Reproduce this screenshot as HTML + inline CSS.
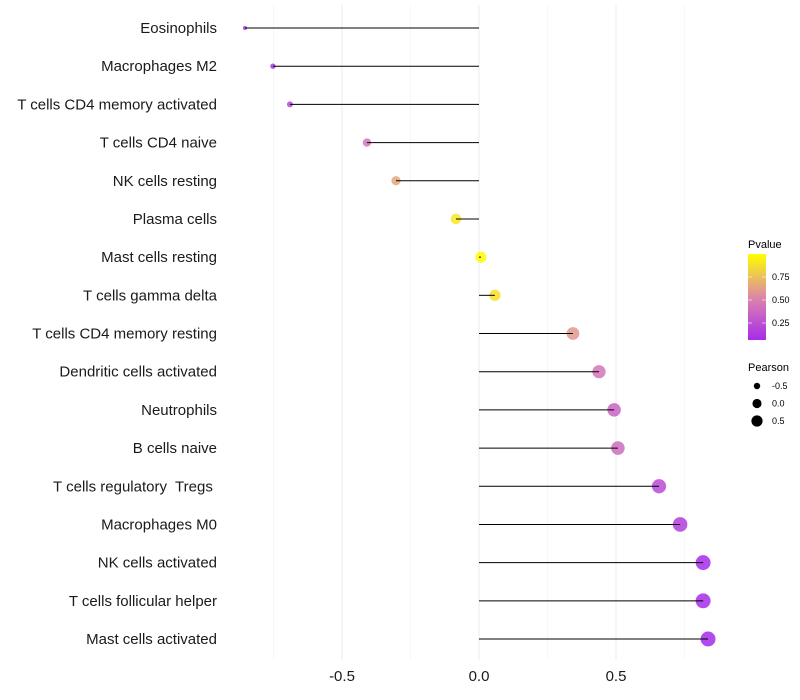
<!DOCTYPE html>
<html><head><meta charset="utf-8"><style>
body{margin:0;background:#fff;font-family:"Liberation Sans",sans-serif}
text{white-space:pre}
</style></head><body>
<svg id="c" width="800" height="700" style="display:block"></svg>
<script>
const categories=["Eosinophils","Macrophages M2","T cells CD4 memory activated","T cells CD4 naive","NK cells resting","Plasma cells","Mast cells resting","T cells gamma delta","T cells CD4 memory resting","Dendritic cells activated","Neutrophils","B cells naive","T cells regulatory  Tregs ","Macrophages M0","NK cells activated","T cells follicular helper","Mast cells activated"];
const pearson=[-0.854,-0.752,-0.690,-0.409,-0.303,-0.084,0.007,0.058,0.343,0.438,0.493,0.507,0.657,0.734,0.818,0.818,0.836];
const pvalue=[0.08,0.12,0.2,0.45,0.65,0.9,0.99,0.88,0.6,0.45,0.35,0.4,0.22,0.15,0.06,0.06,0.05];
const xTicks=[-0.5,0,0.5];
const xTickLabels=["-0.5","0.0","0.5"];
const xMinor=[-0.75,-0.25,0.25,0.75];
const pTicks=[0.25,0.5,0.75];
const pTickLabels=["0.25","0.50","0.75"];
const sizeBreaks=[-0.5,0,0.5];
const sizeLabels=["-0.5","0.0","0.5"];

const NS="http://www.w3.org/2000/svg";
const svg=document.getElementById('c');
function mk(t,a,p){const e=document.createElementNS(NS,t);for(const k in a)e.setAttribute(k,a[k]);(p||svg).appendChild(e);return e;}
const x=v=>479+v*274;
const y=i=>28+i*(611/16);
const rad=v=>Math.sqrt(Math.max(1,30.3+30.8*v));
const stops=[[0,[160,32,240]],[0.5,[218,128,178]],[1,[255,255,0]]];
function col(p){p=Math.max(0,Math.min(1,p));let a=stops[0],b=stops[1];if(p>0.5){a=stops[1];b=stops[2];}
const t=(p-a[0])/(b[0]-a[0]);const c=a[1].map((v,i)=>Math.round(v+(b[1][i]-v)*t));return `rgb(${c.join(',')})`;}

xMinor.forEach(v=>{const l=mk('line',{x1:x(v),x2:x(v),y1:5,y2:660,stroke:'#f2f2f2','stroke-width':0.6});

});
xTicks.forEach((v,i)=>{const l=mk('line',{x1:x(v),x2:x(v),y1:5,y2:660,stroke:'#ebebeb','stroke-width':1});


const t=mk('text',{x:x(v),y:681,'text-anchor':'middle','font-size':15,fill:'#1a1a1a'});t.textContent=xTickLabels[i];

});

categories.forEach((c,i)=>{
const t=mk('text',{x:217,y:y(i)+5,'text-anchor':'end','font-size':15,fill:'#1a1a1a'});t.textContent=c;


const p=mk('circle',{cx:x(pearson[i]),cy:y(i),r:rad(pearson[i]),fill:col(pvalue[i]),'fill-opacity':0.85});


const l=mk('line',{x1:x(0),x2:x(pearson[i]),y1:y(i),y2:y(i),stroke:'#000','stroke-width':1});


});

const g=mk('g',{});
const tt=mk('text',{x:748,y:248,'font-size':11},g);tt.textContent='Pvalue';
const defs=mk('defs',{},g);const lg=mk('linearGradient',{id:'gr',x1:0,y1:1,x2:0,y2:0},defs);
const pY=v=>323-(v-0.25)*92;
const lo=0.065,hi=1.0;
for(let k=0;k<=10;k++){const v=lo+(hi-lo)*k/10;mk('stop',{offset:k/10,'stop-color':col(v)},lg);}
mk('rect',{x:748,y:pY(hi),width:18,height:pY(lo)-pY(hi),fill:'url(#gr)'},g);
pTicks.forEach((v,i)=>{mk('line',{x1:748,x2:752,y1:pY(v),y2:pY(v),stroke:'#fff','stroke-width':0.6},g);
mk('line',{x1:762,x2:766,y1:pY(v),y2:pY(v),stroke:'#fff','stroke-width':0.6},g);
const t=mk('text',{x:772,y:pY(v)+3,'font-size':9},g);t.textContent=pTickLabels[i];});
const g2=mk('g',{});
const t2=mk('text',{x:748,y:371,'font-size':11},g2);t2.textContent='Pearson';
sizeBreaks.forEach((v,i)=>{const cy=386+i*17.5;mk('circle',{cx:757,cy:cy,r:rad(v)*0.83,fill:'#000'},g2);
const t=mk('text',{x:772,y:cy+3,'font-size':9},g2);t.textContent=sizeLabels[i];});
</script>
</body></html>
